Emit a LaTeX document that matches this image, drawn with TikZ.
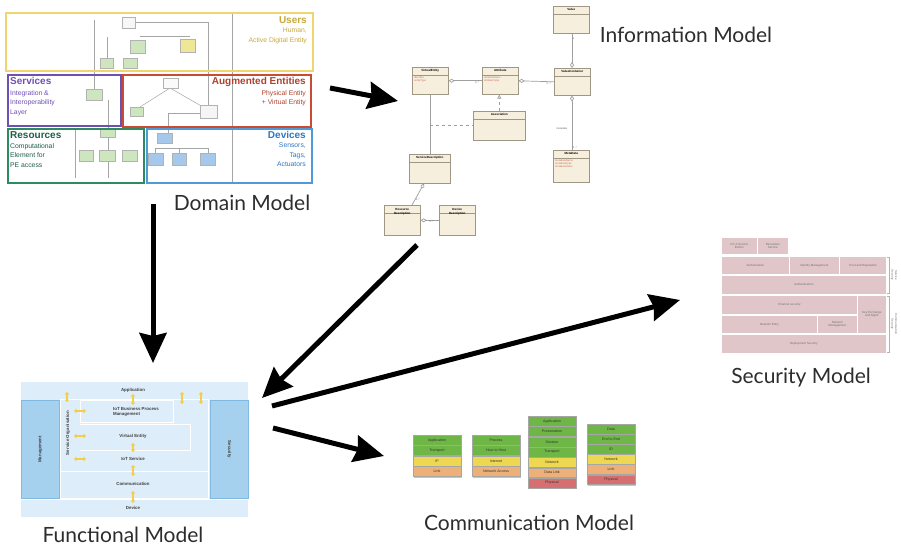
\documentclass[tikz,border=0pt]{standalone}
\usepackage{fontspec}
\setmainfont{Lato}
\newfontfamily\thumbfont{Liberation Sans}
\usetikzlibrary{positioning, arrows.meta, shadows, backgrounds}
\definecolor{TitleGray}{RGB}{45,45,45}
\definecolor{DMyellow}{RGB}{240,212,110}
\definecolor{DMyellowTxt}{RGB}{200,168,60}
\definecolor{DMpurple}{RGB}{110,80,180}
\definecolor{DMred}{RGB}{200,75,50}
\definecolor{DMredTxt}{RGB}{175,65,45}
\definecolor{DMgreen}{RGB}{45,140,95}
\definecolor{DMgreenTxt}{RGB}{30,95,70}
\definecolor{DMblue}{RGB}{80,155,215}
\definecolor{DMblueTxt}{RGB}{45,120,195}
\definecolor{DMboxGreen}{RGB}{205,230,190}
\definecolor{DMboxBlue}{RGB}{165,200,235}
\definecolor{DMboxYellow}{RGB}{238,232,150}
\definecolor{UMLfill}{RGB}{246,239,222}
\definecolor{UMLline}{RGB}{160,150,132}
\definecolor{UMLred}{RGB}{200,110,90}
\definecolor{SecPink}{RGB}{224,198,200}
\definecolor{FMlight}{RGB}{222,237,250}
\definecolor{FMdark}{RGB}{165,208,238}
\definecolor{FMedge}{RGB}{130,185,225}
\definecolor{FMyellow}{RGB}{245,205,70}
\definecolor{CMgreen}{RGB}{110,182,70}
\definecolor{CMyellow}{RGB}{238,216,82}
\definecolor{CMorange}{RGB}{236,176,120}
\definecolor{CMred}{RGB}{214,112,112}
\tikzset{
  title/.style={font=\fontsize{21}{24}\selectfont, text=TitleGray, inner sep=0pt, anchor=base},
  bigarrow/.style={-{Stealth[length=30pt, width=27pt, inset=3pt]}, line width=5pt, black},
  dmframe/.style={draw, line width=1.8pt, minimum width=#1, anchor=north west, inner sep=0pt},
  dmhead/.style={font=\thumbfont\bfseries\fontsize{10}{11}\selectfont, inner sep=0pt},
  dmtext/.style={font=\thumbfont\fontsize{6.8}{9.5}\selectfont, inner sep=0pt},
  dmuml/.style={draw=gray!60, line width=0.4pt, fill=DMboxGreen},
  dmline/.style={draw=gray!70, line width=0.5pt},
  umlclass/.style={draw=UMLline, fill=UMLfill, line width=0.6pt, inner sep=0pt,
    minimum width=36pt, minimum height=27pt, anchor=north west,
    drop shadow={shadow xshift=0.8pt, shadow yshift=-0.8pt, opacity=.3},
    path picture={\draw[UMLline, line width=0.4pt]
      ([yshift=-8pt]path picture bounding box.north west) -- ([yshift=-8pt]path picture bounding box.north east);}},
  umlname/.style={font=\thumbfont\bfseries\fontsize{3}{3.5}\selectfont, inner sep=0pt, anchor=north, yshift=-2.5pt, align=center},
  umlattr/.style={font=\thumbfont\fontsize{2.6}{3.2}\selectfont, text=UMLred, inner sep=0pt, anchor=north west, align=left},
  umlmult/.style={font=\thumbfont\fontsize{2.6}{3}\selectfont, text=black!60, inner sep=0.5pt},
  assoc/.style={draw=gray!75, line width=0.7pt},
  agg/.style={assoc, {Diamond[open, length=6pt, width=4pt]}-},
  secbox/.style={fill=SecPink, draw=white, line width=0.8pt, inner sep=0.5pt, anchor=north west,
    align=center, text=black!55, font=\thumbfont\fontsize{3}{3.6}\selectfont},
  fmrow/.style={font=\thumbfont\bfseries\fontsize{4.4}{5}\selectfont, text=black!75, inner sep=0pt, align=center},
  fmside/.style={fill=FMdark, draw=FMedge, line width=0.6pt, anchor=north west, inner sep=0pt,
    minimum width=38pt, minimum height=98pt},
  yarrow/.style={{Triangle[length=2.4pt, width=4.5pt]}-{Triangle[length=2.4pt, width=4.5pt]}, line width=2.2pt, FMyellow},
  layer/.style={minimum width=48pt, minimum height=#1, inner sep=0pt, draw=black!35, line width=0.4pt,
    font=\thumbfont\fontsize{3.6}{4}\selectfont, text=black!80,
    drop shadow={shadow xshift=1.4pt, shadow yshift=-1.4pt, opacity=.45}},
  layer/.default=10pt,
}
\begin{document}
\begin{tikzpicture}[x=1pt, y=-1pt]
  \useasboundingbox (0,0) rectangle (901,546);
  \fill[white] (0,0) rectangle (901,546);
  % domain model
  \draw[dmline] (232,12) -- (232,182);
  \draw[dmline] (94,20) -- (94,90);
  \draw[dmline] (107,37) -- (107,58);
  \draw[dmline] (135,22) -- (208,22) -- (208,110);
  \draw[dmline] (140,36) -- (190,36);
  \draw[dmline] (108,100) -- (108,178);
  \draw[dmline] (170,88) -- (140,107);
  \draw[dmline] (170,88) -- (203,107);
  \draw[dmline] (200,113) -- (168,113) -- (168,133);
  \draw[dmline] (155,153) -- (155,148) -- (208,148) -- (208,153);
  \draw[dmline] (179,148) -- (179,153);
  \draw[dmline] (75,130) -- (75,178);
  \fill[dmuml, fill=gray!6] (122,17) rectangle (135,28);
  \fill[dmuml] (130,40) rectangle (145,53);
  \fill[dmuml, fill=DMboxYellow] (180,39) rectangle (195,52);
  \fill[dmuml] (100,58) rectangle (113,68);
  \fill[dmuml] (123,58) rectangle (137,68);
  \fill[dmuml] (86,89) rectangle (102,100);
  \fill[dmuml, fill=gray!4] (163,78) rectangle (178,88);
  \fill[dmuml] (130,107) rectangle (143,116);
  \fill[dmuml, fill=gray!8] (200,105) rectangle (217,118);
  \fill[dmuml] (100,129) rectangle (115,137);
  \fill[dmuml] (79,150) rectangle (93,161);
  \fill[dmuml] (99,150) rectangle (115,161);
  \fill[dmuml] (122,150) rectangle (137,161);
  \fill[dmuml, fill=DMboxBlue] (157,133) rectangle (172,143);
  \fill[dmuml, fill=DMboxBlue] (148,153) rectangle (163,165);
  \fill[dmuml, fill=DMboxBlue] (172,153) rectangle (186,165);
  \fill[dmuml, fill=DMboxBlue] (200,153) rectangle (215,165);
  \node[dmframe=307pt, draw=DMyellow, minimum height=58pt] (users) at (5,12) {};
  \node[dmframe=113pt, draw=DMpurple, minimum height=51pt] (services) at (7,74) {};
  \node[dmframe=188pt, draw=DMred, minimum height=52pt] (augment) at (122,74) {};
  \node[dmframe=136pt, draw=DMgreen, minimum height=54pt] (resources) at (7,128) {};
  \node[dmframe=165pt, draw=DMblue, minimum height=54pt] (devices) at (146,128) {};
  \node[dmhead, text=DMyellowTxt, anchor=north east] (usershd) at (307,16) {Users};
  \node[dmtext, text=DMyellowTxt, anchor=north east, align=right] (userstx) at (307,28) {Human,\\Active Digital Entity};
  \node[dmhead, text=DMpurple, anchor=north west] (serviceshd) at (10,77) {Services};
  \node[dmtext, text=DMpurple, anchor=north west, align=left] (servicestx) at (10,90) {Integration \&\\Interoperability\\Layer};
  \node[dmhead, text=DMredTxt, anchor=north east] (augmenthd) at (306,77) {Augmented Entities};
  \node[dmtext, text=DMredTxt, anchor=north east, align=right] (augmenttx) at (306,90) {Physical Entity\\+ Virtual Entity};
  \node[dmhead, text=DMgreenTxt, anchor=north west] (resourceshd) at (10,131) {Resources};
  \node[dmtext, text=DMgreenTxt, anchor=north west, align=left] (resourcestx) at (10,143) {Computational\\Element for\\PE access};
  \node[dmhead, text=DMblueTxt, anchor=north east] (deviceshd) at (306,131) {Devices};
  \node[dmtext, text=DMblueTxt, anchor=north east, align=right] (devicestx) at (306,143) {Sensors,\\Tags,\\Actuators};
  \node[title] (dmtitle) at (242,210) {Domain Model};
  % information model
  \node[umlclass] (value) at (553,6) {};
  \node[umlclass] (ventity) at (412,67) {};
  \node[umlclass] (attrib) at (482,67) {};
  \node[umlclass] (vcont) at (554,68) {};
  \node[umlclass, minimum width=52pt, minimum height=29pt] (associa) at (473,111) {};
  \node[umlclass, minimum height=32pt] (metadata) at (553,150) {};
  \node[umlclass, minimum width=41pt, minimum height=29pt] (servdesc) at (409,154) {};
  \node[umlclass, minimum height=30pt] (resdesc) at (384,205) {};
  \node[umlclass, minimum height=30pt] (devdesc) at (439,205) {};
  \node[umlname] at (value.north) {Value};
  \node[umlname] at (ventity.north) {VirtualEntity};
  \node[umlname] at (attrib.north) {Attribute};
  \node[umlname] at (vcont.north) {ValueContainer};
  \node[umlname] at (associa.north) {Association};
  \node[umlname] at (metadata.north) {MetaData};
  \node[umlname] at (servdesc.north) {ServiceDescription};
  \node[umlname, yshift=-1pt] at (resdesc.north) {Resource\\Description};
  \node[umlname, yshift=-1pt] at (devdesc.north) {Device\\Description};
  \node[umlattr] at ([xshift=2pt, yshift=-9.5pt]ventity.north west) {identifier\\entityType};
  \node[umlattr] at ([xshift=2pt, yshift=-9.5pt]attrib.north west) {attributeName\\attributeType};
  \node[umlattr] at ([xshift=2pt, yshift=-9.5pt]metadata.north west) {metadataName\\metadataType\\metadataValue};
  \draw[agg] (ventity.east) -- (attrib.west) node[umlmult, pos=0.85, below] {0..*};
  \draw[agg] (attrib.east) -- (vcont.west) node[umlmult, pos=0.85, below] {0..*};
  \draw[agg] ([xshift=18pt]vcont.north west) -- ([xshift=19pt]value.south west) node[umlmult, pos=0.85, right] {1};
  \draw[agg] ([xshift=18pt]vcont.south west) -- ([xshift=19pt]metadata.north west)
    node[umlmult, pos=0.6, left, xshift=-4pt] {metadata} node[umlmult, pos=0.95, right] {0..*};
  \draw[assoc, dashed, -{Triangle[open, length=4pt, width=4pt]}] (associa.north) -- (associa.north |- attrib.south);
  \draw[assoc] (ventity.south) -- (ventity.south |- servdesc.north);
  \coordinate (velink) at (ventity.south |- associa.west);
  \draw[assoc, dashed] (velink) -- (associa.west);
  \draw[agg] ([xshift=15pt]servdesc.south west) -- ([xshift=28pt]resdesc.north west) node[umlmult, pos=0.75, right] {0..*};
  \draw[agg] (resdesc.east) -- (devdesc.west) node[umlmult, pos=0.6, below] {0..*};
  \node[title] (imtitle) at (686,42) {Information Model};
  % security model
  \node[secbox, minimum width=36pt, minimum height=17pt] (sec1) at (721,237) {IoT-A Service\\Broker};
  \node[secbox, minimum width=31pt, minimum height=17pt] (sec2) at (757,237) {Resolution\\Service};
  \node[secbox, minimum width=68pt, minimum height=18pt] (authz) at (721,256) {Authorization};
  \node[secbox, minimum width=50pt, minimum height=18pt] (idm) at (789,256) {Identity Management};
  \node[secbox, minimum width=47pt, minimum height=18pt] (trust) at (839,256) {Trust and Reputation};
  \node[secbox, minimum width=165pt, minimum height=19pt] (authn) at (721,275) {Authentication};
  \node[secbox, minimum width=136pt, minimum height=19pt] (channel) at (721,295) {Channel security};
  \node[secbox, minimum width=29pt, minimum height=38pt] (keyex) at (857,295) {Key Exchange\\and Mgmt};
  \node[secbox, minimum width=96pt, minimum height=18pt] (netentry) at (721,315) {Network Entry};
  \node[secbox, minimum width=40pt, minimum height=18pt] (netmgmt) at (817,315) {Network\\Management};
  \node[secbox, minimum width=165pt, minimum height=19pt] (deploy) at (721,334) {Deployment Security};
  \draw[gray!60, line width=0.4pt] (887,257) -- (889,257) -- (889,293) -- (887,293);
  \draw[gray!60, line width=0.4pt] (887,296) -- (889,296) -- (889,352) -- (887,352);
  \node[secbox, fill=none, draw=none, rotate=-90, anchor=center] at (894,275) {Service\\Security};
  \node[secbox, fill=none, draw=none, rotate=-90, anchor=center] at (894,324) {Communication\\Security};
  \node[title] (smtitle) at (801,383) {Security Model};
  % functional model
  \fill[FMlight] (21,382) rectangle (248,517);
  \node[fmside] (fmmgmt) at (21,400) {};
  \node[fmside] (fmsec) at (210,400) {};
  \draw[white, line width=0.8pt] (60,399) rectangle (208,498);
  \draw[white, line width=0.8pt] (80,400) rectangle (173,422);
  \draw[white, line width=0.8pt] (80,424) -- (190,424) -- (190,450) -- (80,450);
  \draw[white, line width=0.8pt] (60,471) -- (208,471);
  \draw[white, line width=0.8pt] (21,499) -- (248,499);
  \node[fmrow] (fapp) at (133,390) {Application};
  \node[fmrow, align=left] (fbpm) at (136,412) {IoT Business Process\\Management};
  \node[fmrow] (fve) at (133,436) {Virtual Entity};
  \node[fmrow] (fios) at (133,459) {IoT Service};
  \node[fmrow] (fcom) at (133,484) {Communication};
  \node[fmrow] (fdev) at (133,508) {Device};
  \node[fmrow, rotate=90] (fmgmt) at (fmmgmt.center) {Management};
  \node[fmrow, rotate=-90] (fsecu) at (fmsec.center) {Security};
  \node[fmrow, rotate=90] (fso) at (68,433) {Service Organisation};
  \draw[yarrow] (133,394) -- (133,405);
  \draw[yarrow] (133,443) -- (133,452);
  \draw[yarrow] (133,465) -- (133,476);
  \draw[yarrow] (133,491) -- (133,503);
  \draw[yarrow] (67,392) -- (67,402);
  \draw[yarrow] (182,392) -- (182,404);
  \draw[yarrow] (201,392) -- (201,404);
  \draw[yarrow] (74,411) -- (86,411);
  \draw[yarrow] (74,436) -- (86,436);
  \draw[yarrow] (74,459) -- (86,459);
  \node[title] (fmtitle) at (123,542) {Functional Model};
  % communication model
  \node[layer, fill=CMgreen, anchor=north] (s1a) at (437,435) {Application};
  \node[layer, fill=CMgreen, below=0pt of s1a] (s1b) {Transport};
  \node[layer, fill=CMyellow, below=0pt of s1b] (s1c) {IP};
  \node[layer, fill=CMorange, below=0pt of s1c] (s1d) {Link};
  \node[layer, fill=CMgreen, anchor=north] (s2a) at (496,435) {Process};
  \node[layer, fill=CMgreen, below=0pt of s2a] (s2b) {Host to Host};
  \node[layer, fill=CMyellow, below=0pt of s2b] (s2c) {Internet};
  \node[layer, fill=CMorange, below=0pt of s2c] (s2d) {Network Access};
  \node[layer=9.9pt, fill=CMgreen, anchor=north] (s3a) at (552,416) {Application};
  \node[layer=9.9pt, fill=CMgreen, below=0pt of s3a] (s3b) {Presentation};
  \node[layer=9.9pt, fill=CMgreen, below=0pt of s3b] (s3c) {Session};
  \node[layer=9.9pt, fill=CMgreen, below=0pt of s3c] (s3d) {Transport};
  \node[layer=9.9pt, fill=CMyellow, below=0pt of s3d] (s3e) {Network};
  \node[layer=9.9pt, fill=CMorange, below=0pt of s3e] (s3f) {Data Link};
  \node[layer=9.9pt, fill=CMred, below=0pt of s3f] (s3g) {Physical};
  \node[layer=9.7pt, fill=CMgreen, anchor=north] (s4a) at (611,424) {Data};
  \node[layer=9.7pt, fill=CMgreen, below=0pt of s4a] (s4b) {End to End};
  \node[layer=9.7pt, fill=CMgreen, below=0pt of s4b] (s4c) {ID};
  \node[layer=9.7pt, fill=CMyellow, below=0pt of s4c] (s4d) {Network};
  \node[layer=9.7pt, fill=CMorange, below=0pt of s4d] (s4e) {Link};
  \node[layer=9.7pt, fill=CMred, below=0pt of s4e] (s4f) {Physical};
  \node[title] (cmtitle) at (529,530) {Communication Model};
  % links between models
  \coordinate (dm-east) at (330,88);
  \coordinate (im-west) at (398,101);
  \coordinate (dm-south) at (153,204);
  \coordinate (fm-north) at (153,363);
  \coordinate (im-south) at (417,245);
  \coordinate (fm-ne) at (262,398);
  \coordinate (fm-east) at (272,406);
  \coordinate (sm-west) at (680,300);
  \coordinate (fm-se) at (273,428);
  \coordinate (cm-west) at (384,456);
  \draw[bigarrow] (dm-east) -- (im-west);
  \draw[bigarrow] (dm-south) -- (fm-north);
  \draw[bigarrow] (im-south) -- (fm-ne);
  \draw[bigarrow] (fm-east) -- (sm-west);
  \draw[bigarrow] (fm-se) -- (cm-west);
\end{tikzpicture}
\end{document}
